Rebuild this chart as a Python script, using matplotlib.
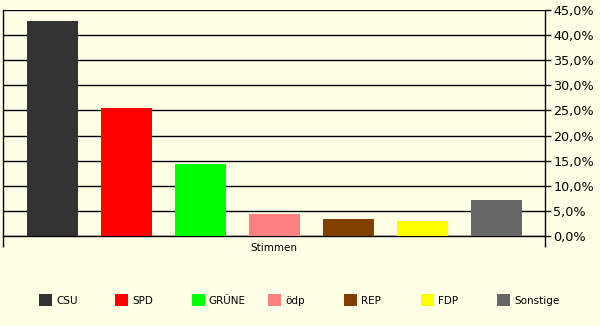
import matplotlib
matplotlib.use('Agg')
import matplotlib.pyplot as plt
from matplotlib.patches import Patch
from matplotlib.ticker import FuncFormatter

# vote shares (%)
parties = ['CSU', 'SPD', 'GRÜNE', 'ödp', 'REP', 'FDP', 'Sonstige']
shares = [42.8, 25.5, 14.3, 4.4, 3.4, 3.0, 7.2]
colors = ['#333333', '#ff0000', '#00ff00', '#ff8080', '#804000', '#ffff00', '#666666']
category = 'Stimmen'
yticks = [0, 5, 10, 15, 20, 25, 30, 35, 40, 45]

_BG = '#ffffe6'
W, H = 600, 326

fig = plt.figure(figsize=(W / 100, H / 100), dpi=100)
fig.patch.set_facecolor(_BG)
ax = fig.add_axes([3 / W, (H - 236) / H, (545 - 3) / W, (236 - 10) / H])
ax.set_facecolor(_BG)

xs = list(range(len(parties)))
ax.bar(xs, shares, width=0.69, color=colors, zorder=3)

ax.set_xlim(-0.67, len(parties) - 1 + 0.66)
ax.set_ylim(0, 45)

ax.yaxis.tick_right()
ax.set_yticks(yticks)
ax.yaxis.set_major_formatter(FuncFormatter(lambda v, p: f'{v:.1f}%'.replace('.', ',')))
ax.tick_params(axis='y', length=4, width=1, color='black', pad=2, labelsize=9.2)
ax.grid(axis='y', color='black', lw=1, zorder=1)

# single category, tick marks at the edges only
ax.set_xticks([(len(parties) - 1) / 2])
ax.set_xticklabels([category], fontsize=7.5)
ax.tick_params(axis='x', which='major', length=0, pad=5)
ax.set_xticks(list(ax.get_xlim()), minor=True)
ax.tick_params(axis='x', which='minor', length=8, width=1, color='black')

for side in ['left', 'right', 'bottom']:
    ax.spines[side].set_color('black')
    ax.spines[side].set_linewidth(1)
ax.spines['top'].set_visible(False)

# legend entries sit on an even pitch, one small legend per party
for i, (name, c) in enumerate(zip(parties, colors)):
    x0 = (39 + i * 76.3) / W
    fig.legend([Patch(facecolor=c, edgecolor='none')], [name],
               loc='center left', bbox_to_anchor=(x0, (H - 300) / H),
               frameon=False, fontsize=7.5, borderpad=0, borderaxespad=0,
               handlelength=1.25, handleheight=1.25, handletextpad=0.4)

fig.savefig('out.png', dpi=100, facecolor=_BG)
